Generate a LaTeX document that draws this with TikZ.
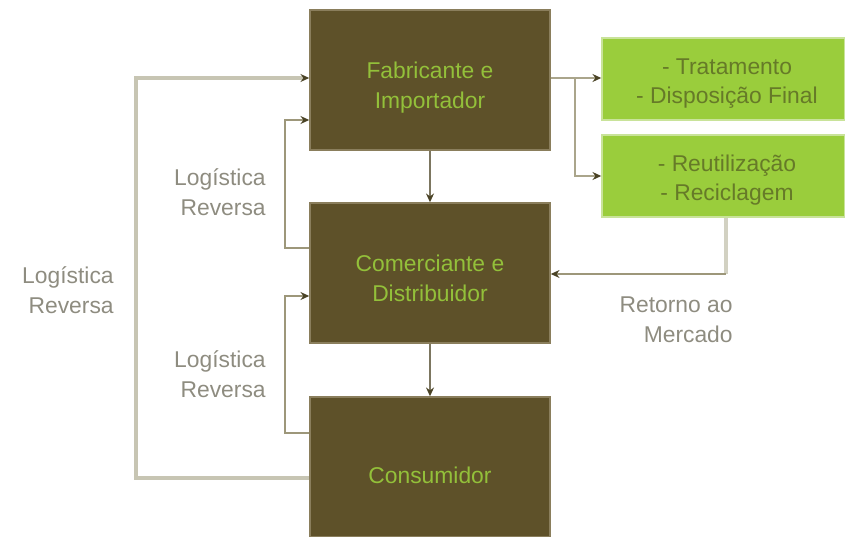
\documentclass[tikz,border=0pt]{standalone}
\usepackage{fontspec}
\setmainfont{Liberation Sans}
\usetikzlibrary{arrows.meta}
\definecolor{darkbox}{HTML}{5E5129}
\definecolor{darkedge}{HTML}{8A7E5C}
\definecolor{greenbox}{HTML}{9ACD3C}
\definecolor{greenedge}{HTML}{C9E39A}
\definecolor{boxtext}{HTML}{93C03A}
\definecolor{greentext}{HTML}{667A28}
\definecolor{labeltext}{HTML}{8E8C80}
\definecolor{outerline}{HTML}{C7C5B3}
\definecolor{innerline}{HTML}{9D977A}
\definecolor{downline}{HTML}{7C7660}
\definecolor{tipc}{HTML}{4A4325}
\tikzset{
  mainbox/.style={fill=darkbox, draw=darkedge, line width=0.8pt, minimum width=240*0.02cm, minimum height=140*0.02cm, inner sep=0pt},
  boxtxt/.style={text=boxtext, font=\fontsize{13}{17}\selectfont, align=center, inner sep=0pt},
  greenbox/.style={fill=greenbox, draw=greenedge, line width=0.8pt, minimum width=243*0.02cm, minimum height=82*0.02cm, inner sep=0pt},
  greentxt/.style={text=greentext, font=\fontsize{13}{16.5}\selectfont, align=center, inner sep=0pt},
  lbl/.style={text=labeltext, font=\fontsize{13}{17}\selectfont, align=right, inner sep=0pt},
  tip/.style={-{Stealth[length=5pt,width=4.5pt,color=tipc]}},
  outerconn/.style={draw=outerline, line width=2.8pt},
  innerconn/.style={draw=innerline, line width=1.7pt},
  downconn/.style={draw=downline, line width=1.5pt},
  rightconn/.style={draw=innerline!70!outerline, line width=1.6pt},
}
\begin{document}
\begin{tikzpicture}[x=0.02cm,y=-0.02cm]
\useasboundingbox (0,0) rectangle (845,537);
\node[mainbox] (b1) at (430,80) {};
\node[mainbox] (b2) at (430,273) {};
\node[mainbox] (b3) at (430,467) {};
\node[greenbox] (g1) at (723.5,79) {};
\node[greenbox] (g2) at (723.5,176) {};
\node[boxtxt] (t1) at (430,88) {Fabricante e\\Importador};
\node[boxtxt] (t2) at (430,278) {Comerciante e\\Distribuidor};
\node[boxtxt] (t3) at (430,475) {Consumidor};
\node[greentxt] (u1) at (727,84) {- Tratamento\\- Disposição Final};
\node[greentxt] (u2) at (727,180) {- Reutilização\\- Reciclagem};
\coordinate (oc1) at (136,478);
\coordinate (oc2) at (136,78);
\coordinate (ic1) at (285,248);
\coordinate (ic2) at (285,120);
\coordinate (jc1) at (285,433);
\coordinate (jc2) at (285,296);
\coordinate (rs) at (575,78);
\coordinate (rd) at (575,176);
\coordinate (gc) at (726,274);
% outer loop
\draw[outerconn,tip] (b3.west |- oc1) -- (oc1) -- (oc2) -- (b1.west |- oc2);
% inner loops
\draw[innerconn,tip] (b2.west |- ic1) -- (ic1) -- (ic2) -- (b1.west |- ic2);
\draw[innerconn,tip] (b3.west |- jc1) -- (jc1) -- (jc2) -- (b2.west |- jc2);
% down arrows
\draw[downconn,tip] (b1.south) -- (b2.north);
\draw[downconn,tip] (b2.south) -- (b3.north);
% to green boxes
\draw[rightconn,tip] (b1.east |- rs) -- (g1.west |- rs);
\draw[rightconn,tip] (rs) -- (rd) -- (g2.west |- rd);
% return to market
\draw[draw=outerline!80!white, line width=2.6pt] (g2.south -| gc) -- (gc);
\draw[innerconn,tip] (gc) -- (b2.east |- gc);
% labels
\node[lbl, anchor=east] (l1) at (266,192) {Logística\\Reversa};
\node[lbl, anchor=east] (l2) at (266,374) {Logística\\Reversa};
\node[lbl, anchor=east] (l3) at (114,290) {Logística\\Reversa};
\node[lbl, anchor=east] (l4) at (733,320) {Retorno ao\\Mercado};
\end{tikzpicture}
\end{document}
